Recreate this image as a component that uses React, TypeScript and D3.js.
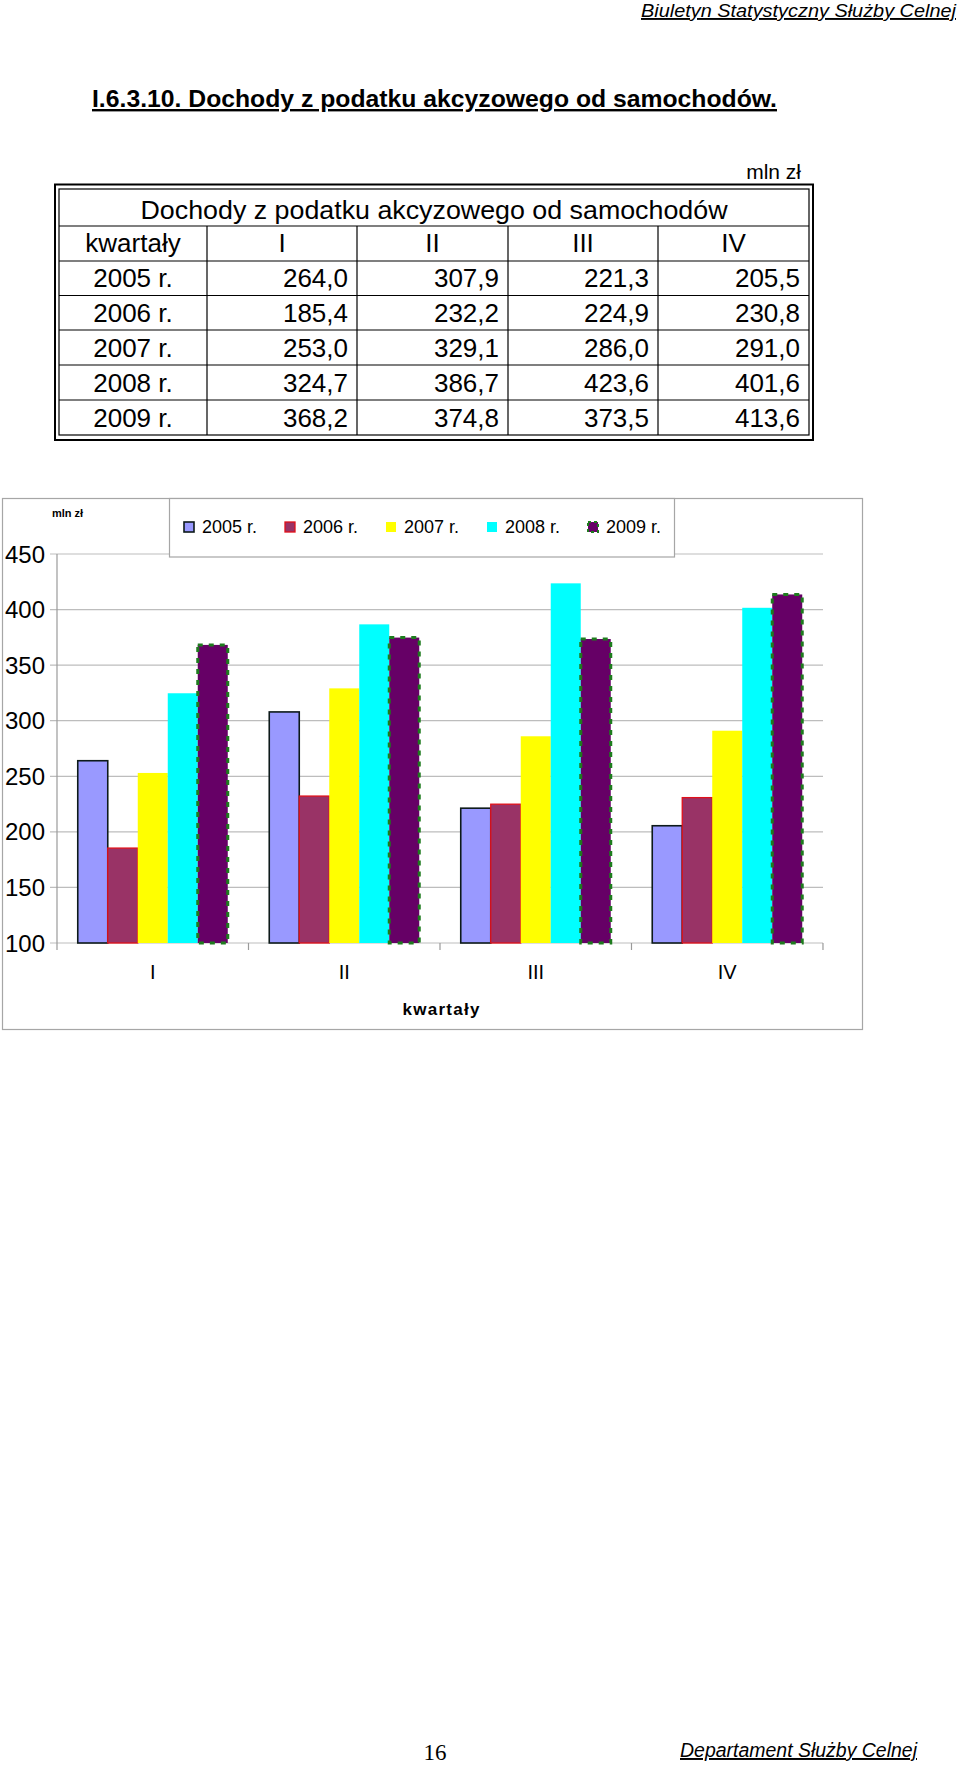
import React from "react";
import * as d3 from "d3";

const quarters = ["I", "II", "III", "IV"];
const years = ["2005 r.", "2006 r.", "2007 r.", "2008 r.", "2009 r."];
const values2005 = [264.0, 307.9, 221.3, 205.5];
const values2006 = [185.4, 232.2, 224.9, 230.8];
const values2007 = [253.0, 329.1, 286.0, 291.0];
const values2008 = [324.7, 386.7, 423.6, 401.6];
const values2009 = [368.2, 374.8, 373.5, 413.6];
const yTicks = [100, 150, 200, 250, 300, 350, 400, 450];
const seriesValues = [values2005, values2006, values2007, values2008, values2009];

const seriesStyle = [
  { fill: "#9999FF", stroke: "#0d1a1a", sw: 1.6, dash: "" },
  { fill: "#993366", stroke: "#e0101a", sw: 1.3, dash: "" },
  { fill: "#FFFF00", stroke: "none", sw: 0, dash: "" },
  { fill: "#00FFFF", stroke: "none", sw: 0, dash: "" },
  { fill: "#660066", stroke: "#1e7b1e", sw: 3, dash: "5 6" },
];

const fmt = (v: number) => v.toFixed(1).replace(".", ",");
const FONT = "'Liberation Sans', Arial, sans-serif";

export default function App() {
  // table geometry
  const colX = [59, 207, 357, 508, 658, 809];
  const rowY = [189, 226, 261, 295.5, 330, 365, 400, 435];

  // chart scales
  const x0 = d3
    .scaleBand<string>()
    .domain(quarters)
    .range([57, 823])
    .paddingInner(0.2167)
    .paddingOuter(0.1084);
  const x1 = d3.scaleBand<string>().domain(years).range([0, x0.bandwidth()]);
  const y = d3.scaleLinear().domain([100, 450]).range([943, 554]);
  const step = x0.step();
  const bandEdges = [0, 1, 2, 3, 4].map((i) => 57 + i * step);

  return (
    <svg
      width={960}
      height={1765}
      style={{ position: "absolute", left: 0, top: 0, background: "#fff" }}
      fontFamily={FONT}
    >
      <rect x={0} y={0} width={960} height={1765} fill="#fff" />
      {/* page header */}
      <text x={956} y={17} textAnchor="end" fontSize={19} fontStyle="italic" textDecoration="underline" textLength={315} lengthAdjust="spacingAndGlyphs">
        Biuletyn Statystyczny Służby Celnej
      </text>
      <text x={92} y={107} fontSize={24} fontWeight="bold" textDecoration="underline" textLength={685} lengthAdjust="spacingAndGlyphs">
        I.6.3.10. Dochody z podatku akcyzowego od samochodów.
      </text>

      {/* table */}
      <text x={801} y={179} textAnchor="end" fontSize={21}>mln zł</text>
      <rect x={55} y={184.5} width={758} height={255.5} fill="none" stroke="#000" strokeWidth={2} />
      <rect x={59} y={189} width={750} height={246} fill="none" stroke="#000" strokeWidth={1.2} />
      {rowY.slice(1, -1).map((ry, i) => (
        <line key={"r" + i} x1={59} x2={809} y1={ry} y2={ry} stroke="#000" strokeWidth={1.2} />
      ))}
      {colX.slice(1, -1).map((cx, i) => (
        <line key={"c" + i} x1={cx} x2={cx} y1={226} y2={435} stroke="#000" strokeWidth={1.2} />
      ))}
      <text x={434} y={219} textAnchor="middle" fontSize={26} textLength={587} lengthAdjust="spacingAndGlyphs">
        Dochody z podatku akcyzowego od samochodów
      </text>
      <text x={(colX[0] + colX[1]) / 2} y={252} textAnchor="middle" fontSize={26}>kwartały</text>
      {quarters.map((q, i) => (
        <text key={q} x={(colX[i + 1] + colX[i + 2]) / 2} y={252} textAnchor="middle" fontSize={26}>{q}</text>
      ))}
      {years.map((yr, r) => {
        const cy = (rowY[r + 2] + rowY[r + 3]) / 2 + 9;
        return (
          <g key={yr}>
            <text x={(colX[0] + colX[1]) / 2} y={cy} textAnchor="middle" fontSize={26}>{yr}</text>
            {seriesValues[r].map((v, c) => (
              <text key={c} x={colX[c + 2] - 9} y={cy} textAnchor="end" fontSize={26}>{fmt(v)}</text>
            ))}
          </g>
        );
      })}

      {/* chart frame */}
      <rect x={2.5} y={498.5} width={860} height={531} fill="#fff" stroke="#a6a6a6" strokeWidth={1.2} />
      {/* gridlines */}
      {yTicks.map((t) => (
        <g key={t}>
          <line x1={50} x2={823} y1={y(t)} y2={y(t)} stroke="#bdbdbd" strokeWidth={1.2} />
          <text x={45} y={y(t) + 8.5} textAnchor="end" fontSize={24}>{t}</text>
        </g>
      ))}
      <line x1={57} x2={57} y1={554} y2={943} stroke="#9a9a9a" strokeWidth={1.2} />
      {bandEdges.map((bx, i) => (
        <line key={i} x1={bx} x2={bx} y1={943} y2={950} stroke="#9a9a9a" strokeWidth={1.2} />
      ))}
      {/* bars */}
      {quarters.map((q, qi) => (
        <g key={q}>
          {years.map((yr, si) => {
            const v = seriesValues[si][qi];
            const st = seriesStyle[si];
            return (
              <rect
                key={yr}
                x={(x0(q) as number) + (x1(yr) as number)}
                y={y(v)}
                width={x1.bandwidth()}
                height={y(100) - y(v)}
                fill={st.fill}
                stroke={st.stroke}
                strokeWidth={st.sw}
                strokeDasharray={st.dash || undefined}
              />
            );
          })}
          <text x={(x0(q) as number) + x0.bandwidth() / 2} y={979} textAnchor="middle" fontSize={20}>{q}</text>
        </g>
      ))}
      <text x={441} y={1015} textAnchor="middle" fontSize={17} fontWeight="bold" textLength={77} lengthAdjust="spacing">kwartały</text>
      <text x={52} y={517} fontSize={11} fontWeight="bold">mln zł</text>

      {/* legend */}
      <rect x={169.5} y={498.5} width={505} height={58.5} fill="#fff" stroke="#a6a6a6" strokeWidth={1.2} />
      {years.map((yr, i) => {
        const lx = 184 + i * 101;
        const st = seriesStyle[i];
        return (
          <g key={yr}>
            <rect
              x={lx}
              y={522}
              width={10}
              height={10}
              fill={st.fill}
              stroke={st.stroke === "none" ? "none" : st.stroke}
              strokeWidth={st.sw ? Math.min(st.sw, 2) : 0}
              strokeDasharray={i === 4 ? "3 3" : undefined}
            />
            <text x={lx + 18} y={533} fontSize={18}>{yr}</text>
          </g>
        );
      })}

      {/* footer */}
      <text x={435} y={1760} textAnchor="middle" fontSize={23} fontFamily="'Liberation Serif', 'Times New Roman', serif">16</text>
      <text x={917} y={1757} textAnchor="end" fontSize={19.5} fontStyle="italic" textDecoration="underline" textLength={237} lengthAdjust="spacingAndGlyphs">
        Departament Służby Celnej
      </text>
    </svg>
  );
}
